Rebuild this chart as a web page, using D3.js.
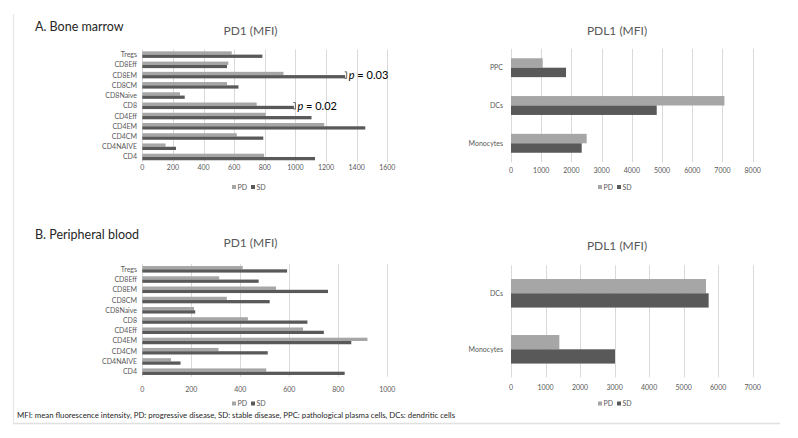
<!DOCTYPE html>
<html><head><meta charset="utf-8">
<script src="https://cdn.jsdelivr.net/npm/d3@7"></script>
<style>
html,body{margin:0;padding:0;background:#fff;}
svg{display:block;font-family:Lato,"Open Sans",sans-serif;}
</style></head>
<body><svg id="c" width="798" height="438"></svg>
<script>
// ---------- DATA ----------
const pd1Categories = ["Tregs","CD8Eff","CD8EM","CD8CM","CD8Naive","CD8","CD4Eff","CD4EM","CD4CM","CD4NAIVE","CD4"];
const bmPD1_PD = [584,562,922,553,246,747,806,1188,617,152,795];
const bmPD1_SD = [784,553,1325,628,277,990,1105,1456,790,220,1128];
const pbPD1_PD = [410,314,546,345,211,431,656,919,311,117,506];
const pbPD1_SD = [591,475,758,520,216,674,741,853,512,156,826];
const bmPDL1Categories = ["PPC","DCs","Monocytes"];
const bmPDL1_PD = [1049,7064,2505];
const bmPDL1_SD = [1821,4823,2340];
const pbPDL1Categories = ["DCs","Monocytes"];
const pbPDL1_PD = [5647,1400];
const pbPDL1_SD = [5724,3012];
const bmPD1Ticks = [0,200,400,600,800,1000,1200,1400,1600];
const pbPD1Ticks = [0,200,400,600,800,1000];
const bmPDL1Ticks = [0,1000,2000,3000,4000,5000,6000,7000,8000];
const pbPDL1Ticks = [0,1000,2000,3000,4000,5000,6000,7000];
const seriesNames = ["PD","SD"];
const seriesColors = ["#a6a6a6","#595959"];
const pAnnotations = [{cat:"CD8EM", label:"0.03"},{cat:"CD8", label:"0.02"}];
const panelTitles = ["A. Bone marrow","B. Peripheral blood"];
const chartTitles = ["PD1 (MFI)","PDL1 (MFI)"];
const footnote = "MFI: mean fluorescence intensity, PD: progressive disease, SD: stable disease, PPC: pathological plasma cells, DCs: dendritic cells";

// ---------- DRAW ----------
const svg = d3.select("#c");
const txtCol = "#595959";

// frame
svg.append("line").attr("x1",13.5).attr("x2",13.5).attr("y1",14).attr("y2",423).attr("stroke","#e6e6e6").attr("stroke-width",1.2);
svg.append("line").attr("x1",13).attr("x2",780).attr("y1",423.5).attr("y2",423.5).attr("stroke","#e0e0e0").attr("stroke-width",1.5);

function drawChart(o){
  const g = svg.append("g");
  const x = d3.scaleLinear().domain([0, o.ticks[o.ticks.length-1]]).range([o.x0, o.x1]);
  const y = d3.scaleBand().domain(o.cats).range([o.y0, o.y1]).paddingInner(o.pad).paddingOuter(o.pad/2);
  const yi = d3.scaleBand().domain(seriesNames).range([0, y.bandwidth()]);
  // grid
  g.selectAll("line.grid").data(o.ticks).join("line")
    .attr("x1",d=>Math.round(x(d))+0.5).attr("x2",d=>Math.round(x(d))+0.5)
    .attr("y1",o.y0).attr("y2",o.y1).attr("stroke","#d9d9d9").attr("stroke-width",1);
  // tick labels
  g.selectAll("text.tick").data(o.ticks).join("text")
    .attr("x",d=>x(d)).attr("y",o.tickY).attr("text-anchor","middle")
    .attr("font-size",7).attr("fill",txtCol).text(d=>d);
  // category labels
  g.selectAll("text.cat").data(o.cats).join("text")
    .attr("x",o.labelX).attr("y",d=>y(d)+y.bandwidth()/2+2.5).attr("text-anchor","end")
    .attr("font-size",7).attr("fill",txtCol).text(d=>d);
  // bars
  const series = [o.pd, o.sd];
  series.forEach((vals,si)=>{
    g.selectAll("rect.s"+si).data(o.cats).join("rect")
      .attr("x",x(0)).attr("y",(d)=>y(d)+yi(seriesNames[si]))
      .attr("width",(d,i)=>x(vals[i])-x(0)).attr("height",yi.bandwidth())
      .attr("fill",seriesColors[si]);
  });
  // title
  g.append("text").attr("x",o.titleX).attr("y",o.titleY).attr("text-anchor","middle")
    .attr("font-size",12).attr("fill",txtCol).text(o.title);
  // legend
  const lg = g.append("g").attr("transform",`translate(${o.legX},${o.legY})`);
  const itemW = 19;
  seriesNames.forEach((s,i)=>{
    lg.append("rect").attr("x",i*itemW).attr("y",-2.5).attr("width",4).attr("height",4).attr("fill",seriesColors[i]);
    lg.append("text").attr("x",i*itemW+5.5).attr("y",2.2).attr("font-size",7).attr("fill",txtCol).text(s);
  });
  // p annotations
  if(o.annot){
    o.annot.forEach(a=>{
      const i = o.cats.indexOf(a.cat);
      const bx = x(o.sd[i]) + 1.5;
      const top = y(a.cat), bot = y(a.cat)+y.bandwidth();
      g.append("path").attr("d",`M${bx-2},${top}H${bx}V${bot}H${bx-2}`)
        .attr("fill","none").attr("stroke","#404040").attr("stroke-width",0.8);
      const t = g.append("text").attr("x",bx+2).attr("y",(top+bot)/2+4).attr("font-size",11).attr("fill","#000")
        .attr("font-family","Lato, sans-serif");
      t.append("tspan").attr("font-style","italic").text("p");
      t.append("tspan").text(" = " + a.label);
    });
  }
}

// panel titles
svg.append("text").attr("x",35).attr("y",31).attr("font-size",12.5).attr("fill","#262626").text(panelTitles[0]);
svg.append("text").attr("x",35).attr("y",239).attr("font-size",12.5).attr("fill","#262626").text(panelTitles[1]);

drawChart({cats:pd1Categories, pd:bmPD1_PD, sd:bmPD1_SD, ticks:bmPD1Ticks,
  x0:142.3, x1:387.3, y0:49.5, y1:162.1, pad:0.36, labelX:137, tickY:169.5,
  title:chartTitles[0], titleX:250.5, titleY:35, legX:232, legY:187.5, annot:pAnnotations});
drawChart({cats:bmPDL1Categories, pd:bmPDL1_PD, sd:bmPDL1_SD, ticks:bmPDL1Ticks,
  x0:511, x1:752.7, y0:48.8, y1:162.2, pad:0.5, labelX:503, tickY:173,
  title:chartTitles[1], titleX:617, titleY:35, legX:598, legY:187.5});
drawChart({cats:pd1Categories, pd:pbPD1_PD, sd:pbPD1_SD, ticks:pbPD1Ticks,
  x0:142.3, x1:387.3, y0:264.2, y1:376.8, pad:0.36, labelX:137, tickY:391.5,
  title:chartTitles[0], titleX:250.5, titleY:247, legX:232, legY:404});
drawChart({cats:pbPDL1Categories, pd:pbPDL1_PD, sd:pbPDL1_SD, ticks:pbPDL1Ticks,
  x0:511, x1:752.7, y0:265.3, y1:377.3, pad:0.49, labelX:503, tickY:390,
  title:chartTitles[1], titleX:617, titleY:250, legX:598, legY:404});

svg.append("text").attr("x",17).attr("y",418).attr("font-size",8).attr("fill","#262626")
  .attr("textLength",438).attr("lengthAdjust","spacingAndGlyphs").text(footnote);
</script></body></html>
